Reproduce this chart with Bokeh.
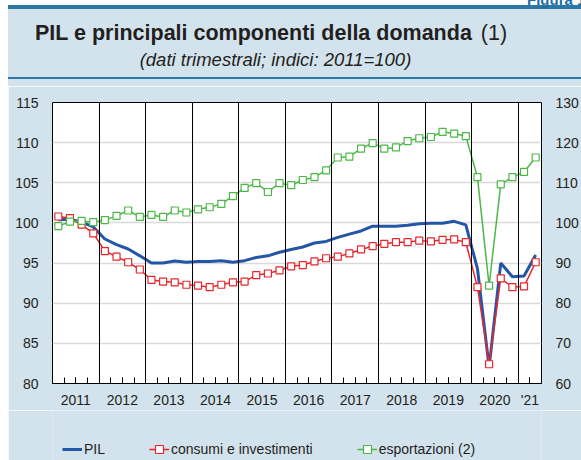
from bokeh.plotting import figure
from bokeh.models import (Range1d, LinearAxis, FixedTicker, Legend, LegendItem, Div, Spacer)
from bokeh.layouts import column, row
from bokeh.embed import file_html
from bokeh.resources import INLINE

# ---------------- data ----------------
quarters = [f"{y}Q{q}" for y in range(2011, 2021) for q in range(1, 5)] + ["2021Q1", "2021Q2"]

pil = [100.4, 100.45, 100.1, 99.5,
       98.0, 97.3, 96.75, 95.9,
       95.0, 95.0, 95.25, 95.1,
       95.2, 95.2, 95.3, 95.1,
       95.3, 95.7, 95.9, 96.35,
       96.7, 97.0, 97.5, 97.7,
       98.2, 98.6, 99.0, 99.6,
       99.6, 99.6, 99.7, 99.9,
       99.95, 99.95, 100.2, 99.75,
       94.3, 82.0, 95.0, 93.3,
       93.4, 96.0]

consumi = [100.8, 100.6, 99.8, 98.7,
           96.5, 95.8, 95.1, 94.2,
           92.9, 92.7, 92.6, 92.3,
           92.2, 92.0, 92.3, 92.6,
           92.7, 93.5, 93.7, 94.1,
           94.6, 94.75, 95.2, 95.6,
           95.8, 96.2, 96.7, 97.1,
           97.4, 97.6, 97.6, 97.8,
           97.7, 97.9, 97.95, 97.6,
           92.0, 82.4, 93.1, 92.0,
           92.1, 95.1]

esportazioni = [99.2, 100.3, 100.5, 100.2,
                100.7, 101.75, 103.1, 101.5,
                102.0, 101.5, 103.1, 102.6,
                103.4, 103.9, 104.75, 106.7,
                108.75, 109.9, 107.7, 109.9,
                109.4, 110.7, 111.4, 113.1,
                116.3, 116.5, 118.5, 119.9,
                118.5, 118.8, 120.4, 121.1,
                121.4, 122.7, 122.25, 121.6,
                111.4, 84.4, 109.6, 111.4,
                112.7, 116.3]

year_labels = ["2011", "2012", "2013", "2014", "2015", "2016", "2017", "2018",
               "2019", "2020", "'21"]
left_ticks = [80, 85, 90, 95, 100, 105, 110, 115]
right_ticks = [60, 70, 80, 90, 100, 110, 120, 130]

series_names = ["PIL", "consumi e investimenti", "esportazioni (2)"]
title_main = "PIL e principali componenti della domanda"
title_note = "(1)"
subtitle = "(dati trimestrali; indici: 2011=100)"
figure_tag = "Figura 1"

# ---------------- derived positions (decimal years) ----------------
def qpos(s):
    return int(s[:4]) + (int(s[5]) - 0.5) / 4

x = [qpos(s) for s in quarters]
x_start = int(quarters[0][:4])
x_end = int(quarters[-1][:4]) + int(quarters[-1][5]) / 4
years = sorted(set(int(s[:4]) for s in quarters))
label_pos = [(y + min(y + 1, x_end)) / 2 for y in years]
year_bounds = [y for y in years if y > x_start]
quarter_bounds = [x_start + k / 4 for k in range(1, int((x_end - x_start) * 4))]

# ---------------- style ----------------
BG = "#d3e3ed"
TXT = "#231f20"
FONT = "Liberation Sans"
BLUE = "#2356a6"
RED = "#e8262b"
GREEN = "#4cb848"
RULE = "#2a78a3"
W = 573
HEAD_H = 86
PLOT_H = 324
LEG_H = 50
BL, BR = 44, 37

# ---------------- header (HTML) ----------------
header_html = f"""
<div style="position:relative;width:{W}px;height:{HEAD_H}px;overflow:hidden;background:white;
            font-family:'{FONT}',Arial,sans-serif;color:{TXT};">
  <div style="position:absolute;left:0;top:5px;width:{W}px;height:{HEAD_H - 5}px;background:{BG};"></div>
  <div style="position:absolute;left:0;top:5px;width:{W}px;height:4px;background:{RULE};"></div>
  <div style="position:absolute;left:0;top:77.3px;width:{W}px;height:2px;background:{RULE};"></div>
  <div style="position:absolute;left:519px;top:-8.2px;font-size:15px;line-height:1;font-weight:bold;
              color:#1f6fa5;white-space:nowrap;">{figure_tag}</div>
  <div style="position:absolute;left:27px;top:22.5px;font-size:21.5px;line-height:1;
              white-space:nowrap;"><b>{title_main}</b><span style="margin-left:9px;">{title_note}</span></div>
  <div style="position:absolute;left:0;width:535px;top:51px;font-size:18.5px;line-height:1;
              font-style:italic;text-align:center;white-space:nowrap;">{subtitle}</div>
</div>
"""
head = Div(text=header_html, width=W, height=HEAD_H, margin=0)

# ---------------- main chart ----------------
p = figure(width=W, height=PLOT_H, x_range=Range1d(x_start, x_end),
           y_range=Range1d(left_ticks[0], left_ticks[-1]),
           output_backend="svg", toolbar_location=None,
           min_border_left=BL, min_border_right=BR, min_border_top=16, min_border_bottom=27,
           background_fill_color="white", border_fill_color=BG,
           outline_line_color="black", outline_line_width=1)
p.extra_y_ranges = {"exp": Range1d(right_ticks[0], right_ticks[-1])}

# grids
p.ygrid.ticker = FixedTicker(ticks=left_ticks)
p.ygrid.grid_line_color = "#d9d9d9"
p.ygrid.grid_line_width = 1.5
p.xgrid.ticker = FixedTicker(ticks=year_bounds)
p.xgrid.grid_line_color = "black"
p.xgrid.grid_line_width = 1
p.xgrid.level = "glyph"

# series
p.line(x, pil, line_color=BLUE, line_width=3)
p.line(x, consumi, line_color=RED, line_width=1.5)
p.scatter(x, consumi, marker="square", size=7, fill_color="white",
          line_color=RED, line_width=1.2)
p.line(x, esportazioni, line_color=GREEN, line_width=1.5, y_range_name="exp")
p.scatter(x, esportazioni, marker="square", size=7, fill_color="white",
          line_color=GREEN, line_width=1.2, y_range_name="exp")

# x axis
xa = p.xaxis[0]
xa.ticker = FixedTicker(ticks=label_pos, minor_ticks=quarter_bounds)
xa.major_label_overrides = {pos: lab for pos, lab in zip(label_pos, year_labels)}
xa.major_tick_in = 6
xa.major_tick_out = 0
xa.minor_tick_in = 6
xa.minor_tick_out = 0
xa.major_tick_line_color = "black"
xa.minor_tick_line_color = "black"
xa.axis_line_color = "black"
xa.major_label_standoff = 8
xa.major_label_text_font = FONT
xa.major_label_text_font_size = "14px"
xa.major_label_text_color = TXT

# left y axis
ya = p.yaxis[0]
ya.ticker = FixedTicker(ticks=left_ticks)
ya.major_tick_in = 0
ya.major_tick_out = 0
ya.minor_tick_in = 0
ya.minor_tick_out = 0
ya.axis_line_color = None
ya.major_label_standoff = 14
ya.major_label_text_font = FONT
ya.major_label_text_font_size = "14px"
ya.major_label_text_color = TXT

# right y axis
ra = LinearAxis(y_range_name="exp", ticker=FixedTicker(ticks=right_ticks))
ra.major_tick_in = 0
ra.major_tick_out = 0
ra.minor_tick_in = 0
ra.minor_tick_out = 0
ra.axis_line_color = None
ra.major_label_standoff = 14
ra.major_label_text_font = FONT
ra.major_label_text_font_size = "14px"
ra.major_label_text_color = TXT
p.add_layout(ra, "right")

# ---------------- legend strip (own small figure; series kept out of its view) ----------------
lf = figure(width=W, height=LEG_H, x_range=Range1d(0, 1), y_range=Range1d(0, 1),
            output_backend="svg", toolbar_location=None,
            x_axis_type=None, y_axis_type=None,
            min_border_left=BL, min_border_right=BR, min_border_top=0, min_border_bottom=0,
            outline_line_color=None, background_fill_color=BG, border_fill_color=BG)
lf.grid.visible = False
k_pil = lf.line(x, pil, line_color=BLUE, line_width=3)
k_cl = lf.line(x, consumi, line_color=RED, line_width=1.5)
k_cs = lf.scatter(x, consumi, marker="square", size=7, fill_color="white",
                  line_color=RED, line_width=1.2)
k_el = lf.line(x, esportazioni, line_color=GREEN, line_width=1.5)
k_es = lf.scatter(x, esportazioni, marker="square", size=7, fill_color="white",
                  line_color=GREEN, line_width=1.2)

legend = Legend(items=[LegendItem(label=series_names[0], renderers=[k_pil]),
                       LegendItem(label=series_names[1], renderers=[k_cl, k_cs]),
                       LegendItem(label=series_names[2], renderers=[k_el, k_es])],
                orientation="horizontal", location=(10, 1), padding=0, margin=0,
                spacing=44, glyph_width=20, label_standoff=2,
                border_line_color=None, background_fill_alpha=0,
                label_text_font=FONT, label_text_font_size="14px", label_text_color=TXT)
lf.add_layout(legend)

layout = row(Spacer(width=8, height=HEAD_H + PLOT_H + LEG_H, margin=0),
             column(head, p, lf, spacing=0, margin=0), spacing=0, margin=0)
open("out.html", "w").write(file_html(layout, INLINE))
